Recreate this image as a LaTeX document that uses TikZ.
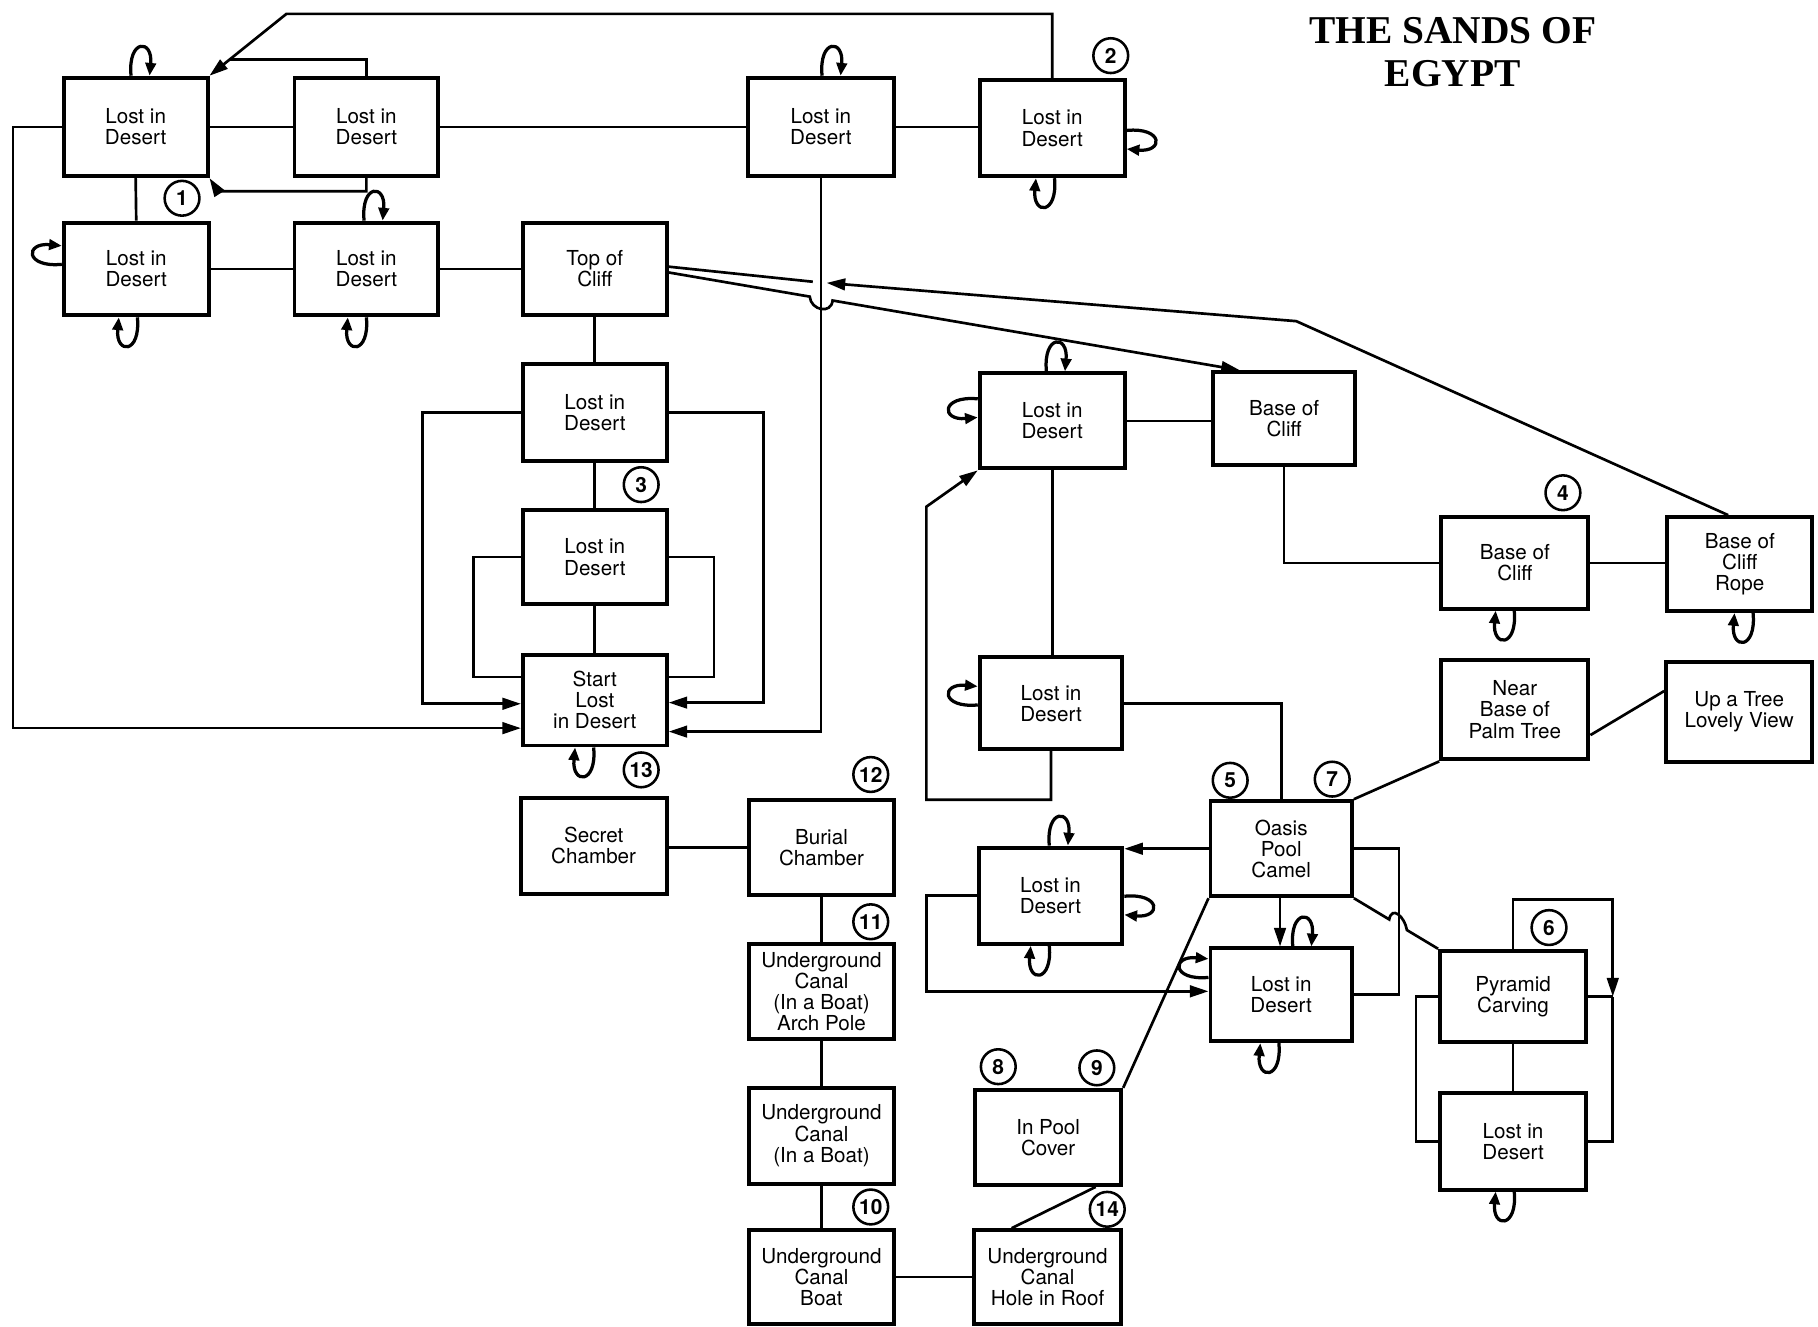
\documentclass[tikz,border=0pt]{standalone}
\usepackage{fontspec}
\setmainfont{TeX Gyre Heros}
\newfontfamily\titlefont{Liberation Serif}
\usetikzlibrary{arrows.meta,calc}
\tikzset{
 box/.style={draw, line width=1.7pt, inner sep=0pt, align=center, minimum width=62pt, minimum height=41pt, font=\fontsize{8.9}{9.1}\selectfont},
 num/.style={draw, circle, line width=1.1pt, inner sep=0pt, minimum size=15pt, font=\fontsize{9}{9}\selectfont\bfseries},
 con/.style={line width=1.15pt},
 arr/.style={con, -{Triangle[length=8pt,width=5pt]}},
 sl/.style={line width=1.4pt, -{Triangle[length=5.5pt,width=4.5pt]}},
}
\newcommand\lpT[2]{\coordinate (lp) at ($(#1.north)+(#2,0)$);
  \draw[sl] ($(lp)+(-8,0)$) .. controls ($(lp)+(-11,-32)$) and ($(lp)+(11,-32)$) .. ($(lp)+(8,0)$);}
\newcommand\lpB[2]{\coordinate (lp) at ($(#1.south)+(#2,0)$);
  \draw[sl] ($(lp)+(8,0)$) .. controls ($(lp)+(11,32)$) and ($(lp)+(-11,32)$) .. ($(lp)+(-8,0)$);}
\newcommand\lpL[2]{\coordinate (lp) at ($(#1.west)+(0,#2)$);
  \draw[sl] ($(lp)+(0,8)$) .. controls ($(lp)+(-32,11)$) and ($(lp)+(-32,-11)$) .. ($(lp)+(0,-8)$);}
\newcommand\lpLb[2]{\coordinate (lp) at ($(#1.west)+(0,#2)$);
  \draw[sl] ($(lp)+(0,-8)$) .. controls ($(lp)+(-32,-11)$) and ($(lp)+(-32,11)$) .. ($(lp)+(0,8)$);}
\newcommand\lpR[2]{\coordinate (lp) at ($(#1.east)+(0,#2)$);
  \draw[sl] ($(lp)+(0,-8)$) .. controls ($(lp)+(32,-11)$) and ($(lp)+(32,11)$) .. ($(lp)+(0,8)$);}
\begin{document}
\begin{tikzpicture}[x=0.5pt,y=-0.5pt]
\fill[white] (0,0) rectangle (1568,1144);
\useasboundingbox (0,0) rectangle (1568,1144);

% title
\node[font=\titlefont\bfseries\fontsize{17}{18.5}\selectfont, align=center] (title) at (1253,45) {THE SANDS OF\\EGYPT};

% boxes
\node[box, minimum height=42.5pt] (A1) at (117,109.5) {Lost in\\Desert};
\node[box, minimum height=42.5pt] (A2) at (316,109.5) {Lost in\\Desert};
\node[box, minimum width=63pt, minimum height=42.5pt] (A3) at (708,109.5) {Lost in\\Desert};
\node[box, minimum width=62.5pt, minimum height=41.5pt] (A4) at (907.5,110.5) {Lost in\\Desert};
\node[box, minimum width=62.5pt, minimum height=40pt] (B1) at (117.5,232) {Lost in\\Desert};
\node[box, minimum height=40pt] (B2) at (316,232) {Lost in\\Desert};
\node[box, minimum height=40pt] (TC) at (513,232) {Top of\\Cliff};
\node[box, minimum height=42pt] (C1) at (513,356) {Lost in\\Desert};
\node[box, minimum height=40.5pt] (C2) at (513,480.5) {Lost in\\Desert};
\node[box, minimum height=39pt] (ST) at (513,604) {Start\\Lost\\in Desert};
\node[box, minimum width=63pt, minimum height=41.5pt] (SC) at (512,729.5) {Secret\\Chamber};
\node[box, minimum width=62.5pt] (BC) at (708.5,731) {Burial\\Chamber};
\node[box, minimum width=62.5pt] (U1) at (708.5,855) {Underground\\Canal\\(In a Boat)\\Arch Pole};
\node[box, minimum width=62.5pt, minimum height=41.5pt] (U2) at (708.5,979.5) {Underground\\Canal\\(In a Boat)};
\node[box, minimum width=62.5pt, minimum height=40.5pt] (U3) at (708.5,1101.5) {Underground\\Canal\\Boat};
\node[box, minimum width=63.5pt, minimum height=40.5pt] (U4) at (903.5,1101.5) {Underground\\Canal\\Hole in Roof};
\node[box, minimum width=63pt] (PC) at (904,981) {In Pool\\Cover};
\node[box, minimum width=62.5pt] (D1) at (907.5,363) {Lost in\\Desert};
\node[box, minimum width=61.5pt, minimum height=40pt] (BF1) at (1107.5,361) {Base of\\Cliff};
\node[box, minimum width=63.5pt, minimum height=39.5pt] (BF2) at (1306.5,485.5) {Base of\\Cliff};
\node[box, minimum width=62.5pt, minimum height=40.5pt] (RP) at (1500.5,486.5) {Base of\\Cliff\\Rope};
\node[box, minimum width=61.5pt, minimum height=39.5pt] (D2) at (906.5,606.5) {Lost in\\Desert};
\node[box, minimum width=63.5pt, minimum height=43pt] (PT) at (1306.5,612) {Near\\Base of\\Palm Tree};
\node[box, minimum width=63pt, minimum height=43pt] (UT) at (1500,614) {Up a Tree\\Lovely View};
\node[box, minimum width=61pt] (OA) at (1105,732) {Oasis\\Pool\\Camel};
\node[box, minimum width=62pt, minimum height=41.5pt] (D3) at (906,772.5) {Lost in\\Desert};
\node[box, minimum width=61pt, minimum height=40pt] (D4) at (1105,858) {Lost in\\Desert};
\node[box, minimum width=63pt, minimum height=39.5pt] (PY) at (1305,859.5) {Pyramid\\Carving};
\node[box, minimum width=63pt, minimum height=41.5pt] (D5) at (1305,984.5) {Lost in\\Desert};

% numbered circles
\node[num] (n1) at (157,171) {1};
\node[num] (n2) at (958,48) {2};
\node[num] (n3) at (553,418) {3};
\node[num] (n4) at (1348,425) {4};
\node[num] (n5) at (1061,673) {5};
\node[num] (n6) at (1336,800) {6};
\node[num] (n7) at (1149,672) {7};
\node[num] (n8) at (861,920) {8};
\node[num] (n9) at (946,921) {9};
\node[num] (n10) at (751,1041) {10};
\node[num] (n11) at (751,795) {11};
\node[num] (n12) at (751,668) {12};
\node[num] (n13) at (553,664) {13};
\node[num] (n14) at (955,1043) {14};

% top row connectors
\draw[con] (A1.east) -- (A2.west);
\draw[con] (A2.east) -- (A3.west);
\draw[con] (A3.east) -- (A3.east -| A4.west);
\coordinate (tl) at (247,12);
\draw[arr] (A4.north) |- (tl) -- (A1.north east);
\draw[con] (A2.north) |- ($(tl)!0.74!(A1.north east)$);
\coordinate (a2b) at (188,165);
\draw[arr] (A2.south) |- (a2b) -- (A1.south east);
\draw[con] (A1.south) -- (B1.north);
\draw[arr] (A1.west) -- ++(-42,0) |- ($(ST.west)+(0,24)$);

% second row
\draw[con] (B1.east) -- (B2.west);
\draw[con] (B2.east) -- (TC.west);
\draw[con] (TC.south) -- (C1.north);
\draw[con] (C1.south) -- (C2.north);
\draw[con] (C2.south) -- (ST.north);
\draw[arr] (C1.west) -- ++(-85,0) |- ($(ST.west)+(0,3)$);
\draw[arr] (C1.east) -- ++(82,0) |- ($(ST.east)+(0,2)$);
\draw[con] (C2.west) -- ++(-41,0) |- ($(ST.west)+(0,-20)$);
\draw[con] (C2.east) -- ++(39,0) |- ($(ST.east)+(0,-20)$);
\draw[arr] (A3.south) |- ($(ST.east)+(0,27)$);

% top of cliff <-> base of cliff / rope
\coordinate (hS) at ($(TC.east)+(0,3)$);
\coordinate (hE) at ($(BF1.north west)+(25,0)$);
\coordinate (h1) at ($(hS)!0.247!(hE)$);
\coordinate (h2) at ($(hS)!0.287!(hE)$);
\draw[arr] (hS) -- (h1) .. controls ($(h1)+(1,12)$) and ($(h2)+(-1,12)$) .. (h2) -- (hE);
\coordinate (rk) at (1118,277);
\coordinate (rt) at (713,244);
\coordinate (rt2) at (701,243);
\draw[arr] ($(RP.north)+(-10,0)$) -- (rk) -- (rt);
\draw[con] (rt2) -- ($(TC.east)+(0,-2)$);

% right middle
\draw[con] (D1.east) -- (D1.east -| BF1.west);
\draw[con] (BF1.south) |- (BF2.west);
\draw[con] (BF2.east) -- (BF2.east -| RP.west);
\draw[con] (D1.south) -- (D1.south |- D2.north);
\coordinate (dd) at (799,437);
\draw[arr] (D2.south) -- ++(0,42) -| (dd) -- (D1.south west);
\draw[con] (D2.east) -| (OA.north);
\draw[con] (OA.north east) -- (PT.south west);
\draw[con] ($(PT.east)+(0,22)$) -- ($(UT.west)+(0,-18)$);

% oasis area
\draw[arr] (OA.west) -- (OA.west -| D3.east);
\draw[arr] (D3.west) -- ++(-43,0) |- ($(D4.west)+(0,-3)$);
\draw[arr] ($(OA.south)+(-1,0)$) -- ($(D4.north)+(-1,0)$);
\draw[con] (OA.east) -- ++(39,0) |- (D4.east);
\coordinate (gS) at (OA.south east);
\coordinate (gE) at (PY.north west);
\coordinate (g1) at ($(gS)!0.42!(gE)$);
\coordinate (g2) at ($(gS)!0.63!(gE)$);
\draw[con] (gS) -- (g1) .. controls ($(g1)+(2,-12)$) and ($(g2)+(-2,-12)$) .. (g2) -- (gE);
\draw[con] (OA.south west) -- (PC.north east);

% pyramid
\coordinate (pyr) at (1391,776);
\draw[arr] (PY.north) |- (pyr) -- (pyr |- PY.east);
\draw[con] (pyr |- PY.east) |- (D5.east);
\draw[con] (PY.east) -- (pyr |- PY.east);
\draw[con] (PY.west) -- ++(-19,0) |- (D5.west);
\draw[con] (PY.south) -- (D5.north);

% underground
\draw[con] (BC.west) -- (BC.west -| SC.east);
\draw[con] (BC.south) -- (U1.north);
\draw[con] (U1.south) -- (U2.north);
\draw[con] (U2.south) -- (U3.north);
\draw[con] (U3.east) -- (U3.east -| U4.west);
\draw[con] ($(PC.south)+(41,0)$) -- ($(U4.north)+(-31,0)$);

% self loops
\lpT{A1}{4}
\lpT{A3}{9}
\lpR{A4}{10}
\lpB{A4}{-6}
\lpL{B1}{-12}
\lpB{B1}{-7}
\lpT{B2}{6}
\lpB{B2}{-8}
\lpB{ST}{-9}
\lpT{D1}{3}
\lpLb{D1}{-11}
\lpL{D2}{-6.5}
\lpB{BF2}{-8.5}
\lpB{RP}{3.5}
\lpT{D3}{7}
\lpR{D3}{8.5}
\lpB{D3}{-9}
\lpT{D4}{18}
\lpL{D4}{-23}
\lpB{D4}{-10}
\lpB{D5}{-7}
\end{tikzpicture}
\end{document}
